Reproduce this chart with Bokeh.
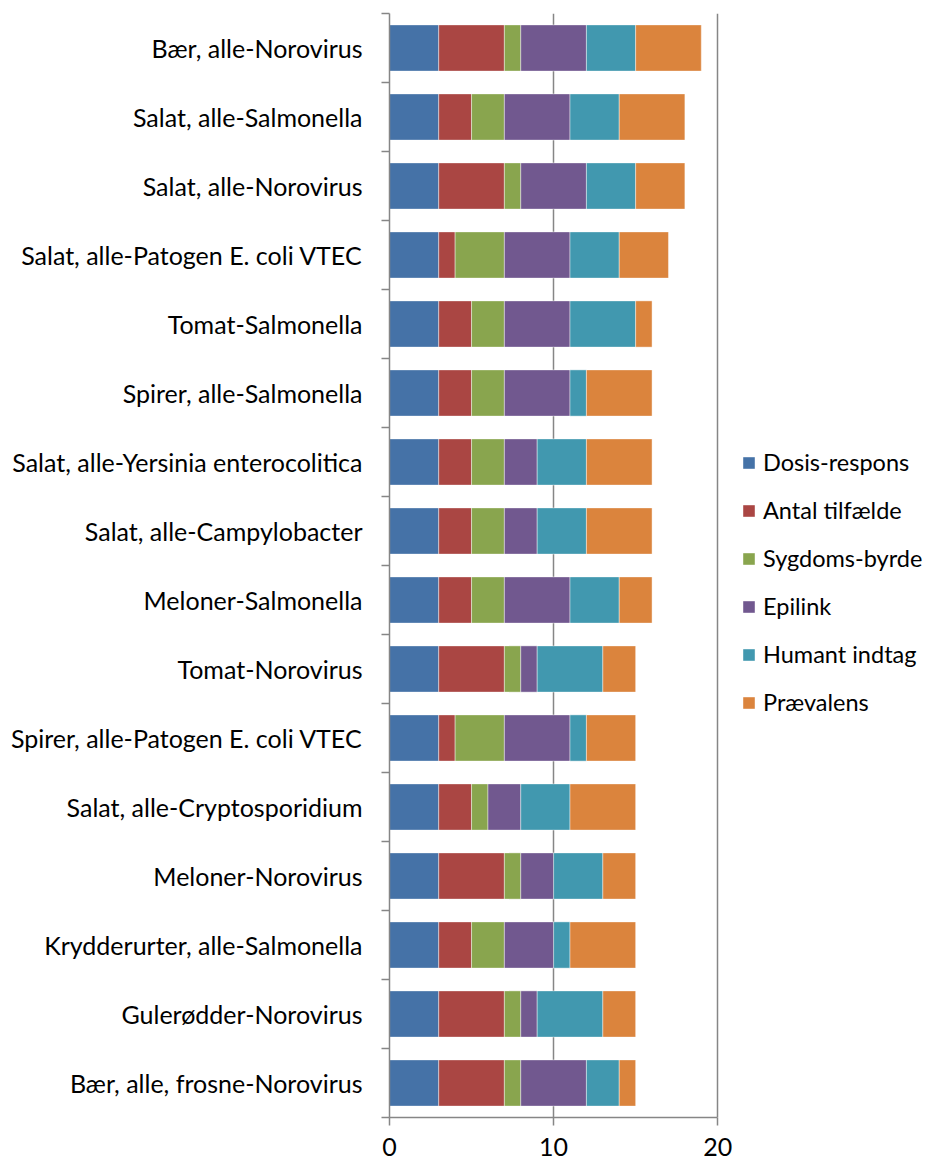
from bokeh.plotting import figure
from bokeh.models import Range1d, FixedTicker, ColumnDataSource, Legend, LegendItem
from bokeh.embed import file_html
from bokeh.resources import INLINE

categories = [
    "Bær, alle-Norovirus",
    "Salat, alle-Salmonella",
    "Salat, alle-Norovirus",
    "Salat, alle-Patogen E. coli VTEC",
    "Tomat-Salmonella",
    "Spirer, alle-Salmonella",
    "Salat, alle-Yersinia enterocolitica",
    "Salat, alle-Campylobacter",
    "Meloner-Salmonella",
    "Tomat-Norovirus",
    "Spirer, alle-Patogen E. coli VTEC",
    "Salat, alle-Cryptosporidium",
    "Meloner-Norovirus",
    "Krydderurter, alle-Salmonella",
    "Gulerødder-Norovirus",
    "Bær, alle, frosne-Norovirus",
]
series_names = ["Dosis-respons", "Antal tilfælde", "Sygdoms-byrde", "Epilink", "Humant indtag", "Prævalens"]
dosis = [3, 3, 3, 3, 3, 3, 3, 3, 3, 3, 3, 3, 3, 3, 3, 3]
antal = [4, 2, 4, 1, 2, 2, 2, 2, 2, 4, 1, 2, 4, 2, 4, 4]
sygdom = [1, 2, 1, 3, 2, 2, 2, 2, 2, 1, 3, 1, 1, 2, 1, 1]
epilink = [4, 4, 4, 4, 4, 4, 2, 2, 4, 1, 4, 2, 2, 3, 1, 4]
humant = [3, 3, 3, 3, 4, 1, 3, 3, 3, 4, 1, 3, 3, 1, 4, 2]
praevalens = [4, 4, 3, 3, 1, 4, 4, 4, 2, 2, 3, 4, 2, 4, 2, 1]
x_ticks = [0, 10, 20]

colors = ["#4572A7", "#AA4643", "#89A54E", "#71588F", "#4198AF", "#DB843D"]
FONT = "Lato"
FS = "25px"

n = len(categories)
ys = [n - 0.5 - i for i in range(n)]
keys = ["s0", "s1", "s2", "s3", "s4", "s5"]
source = ColumnDataSource(dict(y=ys, s0=dosis, s1=antal, s2=sygdom, s3=epilink, s4=humant, s5=praevalens))

p = figure(width=932, height=1162, output_backend="svg", toolbar_location=None,
           x_range=Range1d(0, 543 / 16.41), y_range=Range1d(0, n),
           min_border_left=389, min_border_right=0, min_border_top=13, min_border_bottom=45)
p.outline_line_color = None

renderers = p.hbar_stack(keys, y="y", height=0.67, color=colors, source=source,
                         line_color="white", line_width=0.6, line_alpha=0.7)

legend = Legend(items=[LegendItem(label=name, renderers=[r]) for name, r in zip(series_names, renderers)],
                location=(352, 400), padding=0, margin=0, border_line_alpha=0,
                background_fill_alpha=0, label_text_font=FONT, label_text_font_size="23.5px",
                label_text_color="#000000", glyph_width=15, glyph_height=15,
                label_standoff=7, spacing=18, label_height=30)
p.add_layout(legend, "center")

# x axis
p.xaxis.ticker = FixedTicker(ticks=x_ticks)
p.xaxis.bounds = (0, 20)
p.xaxis.axis_line_color = "#868686"
p.xaxis.axis_line_width = 1.5
p.xaxis.major_tick_line_color = "#868686"
p.xaxis.major_tick_line_width = 1.5
p.xaxis.major_tick_out = 8
p.xaxis.major_tick_in = 0
p.xaxis.minor_tick_line_color = None
p.xaxis.major_label_text_font = FONT
p.xaxis.major_label_text_font_size = FS
p.xaxis.major_label_text_color = "#000000"
p.xaxis.major_label_standoff = 12

# y axis
p.yaxis.ticker = FixedTicker(ticks=ys, minor_ticks=list(range(n + 1)))
p.yaxis.major_label_overrides = {float(y): c for y, c in zip(ys, categories)}
p.yaxis.axis_line_color = "#868686"
p.yaxis.axis_line_width = 1.5
p.yaxis.major_tick_line_color = None
p.yaxis.major_tick_out = 0
p.yaxis.major_tick_in = 0
p.yaxis.minor_tick_line_color = "#868686"
p.yaxis.minor_tick_line_width = 1.5
p.yaxis.minor_tick_out = 8
p.yaxis.minor_tick_in = 0
p.yaxis.major_label_text_font = FONT
p.yaxis.major_label_text_font_size = FS
p.yaxis.major_label_text_color = "#000000"
p.yaxis.major_label_standoff = 19

p.ygrid.grid_line_color = None
p.xgrid.ticker = FixedTicker(ticks=[10, 20])
p.xgrid.grid_line_color = "#868686"
p.xgrid.grid_line_width = 1.5

open("out.html", "w").write(file_html(p, INLINE))
